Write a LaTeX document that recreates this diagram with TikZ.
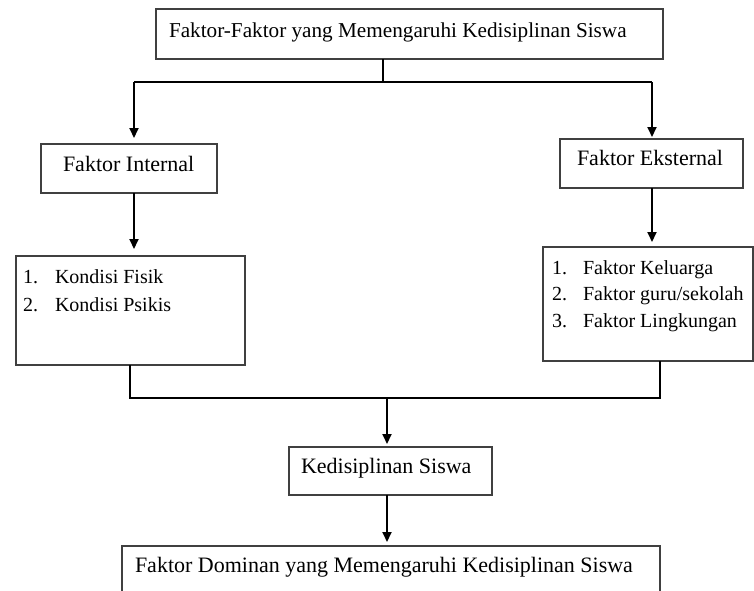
\documentclass[tikz,border=0pt]{standalone}
\usepackage{fontspec}
\setmainfont{Liberation Serif}
\usetikzlibrary{arrows.meta,calc}
\begin{document}
\begin{tikzpicture}[x=1pt,y=-1pt,
  box/.style={draw=black!75,line width=1.2pt,rectangle,inner sep=0pt,outer sep=0pt},
  txt/.style={anchor=base west,inner sep=0pt,outer sep=0pt,font=\fontsize{22}{26}\selectfont},
  itm/.style={anchor=base west,inner sep=0pt,outer sep=0pt,font=\fontsize{20}{24}\selectfont},
  conn/.style={draw=black,line width=1.8pt,line join=miter},
  arr/.style={conn,-{Triangle[width=9pt,length=10pt]}}]
\useasboundingbox (0,0) rectangle (754,590);
% boxes
\node[box,minimum width=507pt,minimum height=50pt] (top) at (409.5,34) {};
\node[box,minimum width=176pt,minimum height=49pt] (int) at (129,168.5) {};
\node[box,minimum width=183pt,minimum height=49pt] (ext) at (651.5,163.5) {};
\node[box,minimum width=229pt,minimum height=109pt] (intlist) at (130.5,310.5) {};
\node[box,minimum width=210pt,minimum height=114pt] (extlist) at (648,304) {};
\node[box,minimum width=203pt,minimum height=48pt] (kd) at (390.5,471) {};
\node[box,minimum width=538pt,minimum height=54pt] (dom) at (391,573) {};
% texts
\node[txt,font=\fontsize{21.2}{26}\selectfont] (ttop) at (169,37) {Faktor-Faktor yang Memengaruhi Kedisiplinan Siswa};
\node[txt] (tint) at (63,171) {Faktor Internal};
\node[txt] (text) at (577,165) {Faktor Eksternal};
\node[itm] (n1) at (23,283) {1.};
\node[itm] (i1) at (55,283) {Kondisi Fisik};
\node[itm] (n2) at (23,311) {2.};
\node[itm] (i2) at (55,311) {Kondisi Psikis};
\node[itm] (m1) at (552,274) {1.};
\node[itm] (e1) at (583,274) {Faktor Keluarga};
\node[itm] (m2) at (552,300) {2.};
\node[itm] (e2) at (583,300) {Faktor guru/sekolah};
\node[itm] (m3) at (552,327) {3.};
\node[itm] (e3) at (583,327) {Faktor Lingkungan};
\node[txt] (tkd) at (301,473) {Kedisiplinan Siswa};
\node[txt] (tdom) at (135,572) {Faktor Dominan yang Memengaruhi Kedisiplinan Siswa};
% junctions
\coordinate (jt) at (383,82);
\coordinate (jl) at (134,82);
\coordinate (jr) at (652,82);
\coordinate (bl) at (130,398);
\coordinate (br) at (660,398);
\coordinate (bm) at (387,398);
% connectors
\draw[conn] (top.south -| jt) -- (jt);
\draw[conn] (jl) -- (jr);
\draw[arr,shorten >=6pt] (jl) -- (int.north -| jl);
\draw[arr,shorten >=2pt] (jr) -- (ext.north -| jr);
\draw[arr,shorten >=7pt] (int.south -| jl) -- (intlist.north -| jl);
\draw[arr,shorten >=5pt] (ext.south -| jr) -- (extlist.north -| jr);
\draw[conn] (intlist.south -| bl) -- (bl) -- (br) -- (extlist.south -| br);
\draw[arr,shorten >=3pt] (bm) -- (kd.north -| bm);
\draw[arr,shorten >=4pt] (kd.south -| bm) -- (dom.north -| bm);
\end{tikzpicture}
\end{document}
